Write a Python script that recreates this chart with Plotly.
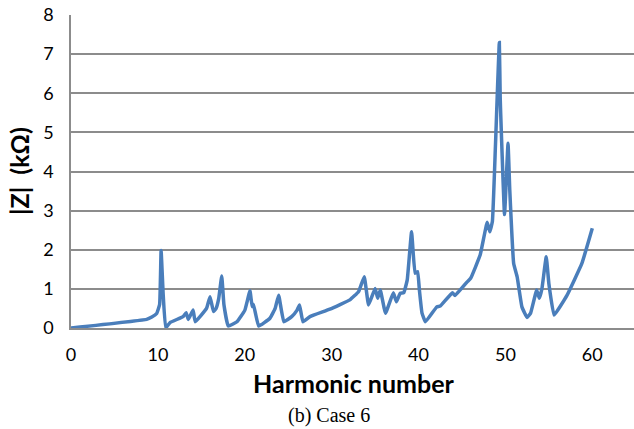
import plotly.graph_objects as go

harmonic = [0, 8.7, 9.3, 9.86, 10.2, 10.37, 10.6, 10.9, 11.4, 12.9, 13.25, 13.5, 14.05, 14.3,
            15.6, 16.0, 16.4, 16.7, 17.0, 17.35, 17.6, 18.1, 19.1, 20.0, 20.6, 20.85, 21.0, 21.6,
            22.9, 23.5, 23.9, 24.5, 25.4, 26.0, 26.3, 26.7, 27.5, 29.8, 32.1, 33.1, 33.75,
            34.25, 35.0, 35.3, 35.6, 36.2, 37.1, 37.45, 37.9, 38.3, 38.7, 39.2, 39.6, 39.9,
            40.1, 40.4, 40.8, 42.1, 42.5, 43.9, 44.2, 45.6, 46.0, 47.1, 47.9, 48.2, 48.5,
            48.85, 49.3, 49.4, 49.9, 50.3, 50.5, 50.95, 51.35, 51.9, 52.5, 52.9, 53.6, 53.9,
            54.2, 54.7, 55.0, 55.6, 57.1, 58.8, 60.0]
impedance = [0, 0.22, 0.28, 0.37, 0.6, 1.98, 0.9, 0.0, 0.14, 0.29, 0.39, 0.22, 0.46, 0.16,
             0.5, 0.8, 0.42, 0.5, 0.75, 1.33, 0.6, 0.05, 0.16, 0.45, 0.95, 0.55, 0.6, 0.05,
             0.25, 0.5, 0.84, 0.16, 0.29, 0.45, 0.59, 0.16, 0.29, 0.48, 0.72, 0.93, 1.31,
             0.59, 1.01, 0.76, 0.97, 0.38, 0.9, 0.67, 0.89, 0.9, 1.23, 2.46, 1.4, 1.44,
             0.97, 0.38, 0.16, 0.54, 0.56, 0.9, 0.83, 1.18, 1.27, 1.87, 2.7, 2.46, 2.72,
             4.64, 7.3, 5.9, 2.9, 4.72, 3.53, 1.65, 1.31, 0.54, 0.27, 0.38, 0.97, 0.76,
             1.0, 1.82, 1.14, 0.33, 0.84, 1.65, 2.55]

x_ticks = [0, 10, 20, 30, 40, 50, 60]
y_ticks = [0, 1, 2, 3, 4, 5, 6, 7, 8]

W, H = 634, 429
L, R, T, B = 71, 0, 15, 101
pw, ph = W - L - R, H - T - B


def px_to_paper(px, py):
    return (px - L) / pw, (H - B - py) / ph


fig = go.Figure()
fig.add_trace(go.Scatter(
    x=harmonic, y=impedance, mode="lines",
    line=dict(color="#4A7EBB", width=3.5, shape="spline", smoothing=0.3),
    showlegend=False, hoverinfo="x+y",
))

xt_x, xt_y = px_to_paper(354, 383)
yt_x, yt_y = px_to_paper(19, 171)
cap_x, cap_y = px_to_paper(329, 415)

fig.update_layout(
    width=W, height=H,
    margin=dict(l=L, r=R, t=T, b=B),
    paper_bgcolor="white", plot_bgcolor="white",
    font=dict(family="Lato, 'Open Sans', sans-serif", color="black", size=18),
    xaxis=dict(
        range=[0, 64.8], tickvals=x_ticks, ticktext=[str(v) for v in x_ticks],
        showgrid=False, zeroline=False,
        showline=True, linecolor="#8C8C8C", linewidth=1.5,
        ticks="", tickfont=dict(size=18), ticklabelstandoff=10,
    ),
    yaxis=dict(
        range=[0, 8], tickvals=y_ticks, ticktext=[str(v) for v in y_ticks],
        showgrid=True, gridcolor="#8C8C8C", gridwidth=1.5,
        zeroline=False, showline=True, linecolor="#8C8C8C", linewidth=1.5,
        ticks="", tickfont=dict(size=18), ticklabelstandoff=12,
    ),
    annotations=[
        dict(text="<b>Harmonic number</b>", x=xt_x, y=xt_y, xref="paper", yref="paper",
             xanchor="center", yanchor="middle", showarrow=False, font=dict(size=25)),
        dict(text="<b>|Z|&nbsp; (kΩ)</b>", x=yt_x, y=yt_y, xref="paper", yref="paper",
             xanchor="center", yanchor="middle", textangle=-90, showarrow=False,
             font=dict(size=25)),
        dict(text="(b) Case 6", x=cap_x, y=cap_y, xref="paper", yref="paper",
             xanchor="center", yanchor="middle", showarrow=False,
             font=dict(family="'Liberation Serif', 'Times New Roman', serif", size=20)),
    ],
)

fig.write_html("out.html")
